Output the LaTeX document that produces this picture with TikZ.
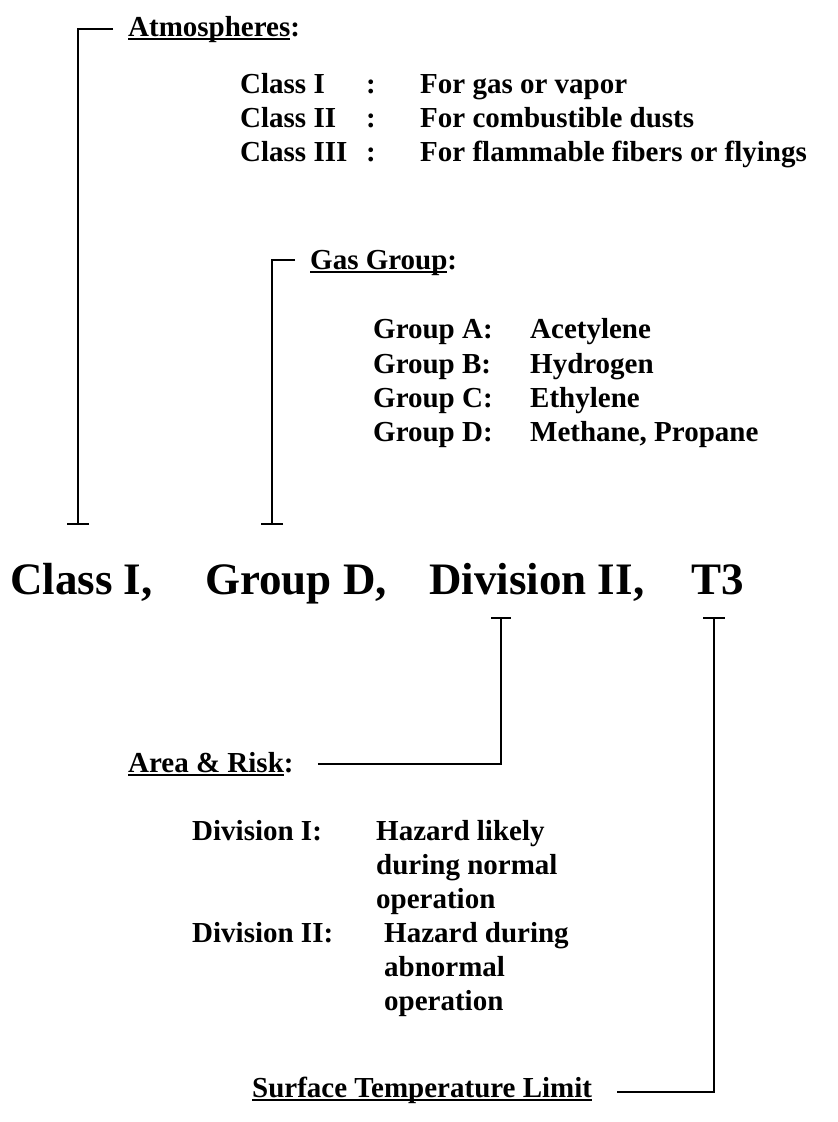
\documentclass[tikz,border=0pt]{standalone}
\usepackage{fontspec}
\setmainfont{Liberation Serif}
\usetikzlibrary{positioning,arrows.meta}
\newcommand{\ulhead}[1]{{\setbox0\hbox{#1}\rlap{\rule[-4pt]{\wd0}{1.8pt}}\box0}}

\begin{document}
\begin{tikzpicture}[x=1pt,y=-1pt,
	txt/.style={font=\fontsize{29}{34}\selectfont\bfseries,anchor=base west,inner sep=0pt},
	big/.style={font=\fontsize{45}{50}\selectfont\bfseries,anchor=base west,inner sep=0pt},
	lead/.style={line width=1.8pt}]
	\useasboundingbox (0,0) rectangle (838,1122);
	% main code line
	\node[big] (cls) at (10,594) {Class I,};
	\node[big] (grp) at (205,594) {Group D,};
	\node[big] (div) at (429,594) {Division II,};
	\node[big] (tem) at (691,594) {T3};
	% atmospheres
	\node[txt] (atm) at (128,36) {\ulhead{Atmospheres}:};
	\node[txt] (c1) at (240,93) {Class I};
	\node[txt] (c2) at (240,127) {Class II};
	\node[txt] (c3) at (240,161) {Class III};
	\node[txt] (k1) at (366,93) {:};
	\node[txt] (k2) at (366,127) {:};
	\node[txt] (k3) at (366,161) {:};
	\node[txt] (v1) at (420,93) {For gas or vapor};
	\node[txt] (v2) at (420,127) {For combustible dusts};
	\node[txt] (v3) at (420,161) {For flammable fibers or flyings};
	\coordinate (atmend) at ([xshift=68pt,yshift=69pt]cls.base west);
	\draw[lead,-{Bar[width=22pt]}] ([xshift=-15pt,yshift=7pt]atm.base west) -| (atmend);
	% gas group
	\node[txt] (gas) at (310,269) {\ulhead{Gas Group}:};
	\node[txt] (ga) at (373,338) {Group A:};
	\node[txt] (gb) at (373,373) {Group B:};
	\node[txt] (gc) at (373,407) {Group C:};
	\node[txt] (gd) at (373,441) {Group D:};
	\node[txt] (na) at (530,338) {Acetylene};
	\node[txt] (nb) at (530,373) {Hydrogen};
	\node[txt] (nc) at (530,407) {Ethylene};
	\node[txt] (nd) at (530,441) {Methane, Propane};
	\coordinate (gasend) at ([xshift=67pt,yshift=69pt]grp.base west);
	\draw[lead,-{Bar[width=22pt]}] ([xshift=-15pt,yshift=9pt]gas.base west) -| (gasend);
	% area and risk
	\node[txt] (area) at (128,772) {\ulhead{Area \& Risk}:};
	\node[txt] (d1) at (192,840) {Division I:};
	\node[txt] (h1) at (376,840) {Hazard likely};
	\node[txt] (h2) at (376,874) {during normal};
	\node[txt] (h3) at (376,908) {operation};
	\node[txt] (d2) at (192,942) {Division II:};
	\node[txt] (h4) at (384,942) {Hazard during};
	\node[txt] (h5) at (384,976) {abnormal};
	\node[txt] (h6) at (384,1010) {operation};
	\coordinate (divend) at ([xshift=72pt,yshift=-23pt]div.base west);
	\draw[lead,-{Bar[width=20pt]}] ([xshift=24pt,yshift=8pt]area.base east) -| (divend);
	% temperature
	\node[txt] (surf) at (252,1097) {\ulhead{Surface Temperature Limit}};
	\coordinate (temend) at ([xshift=23pt,yshift=-23pt]tem.base west);
	\draw[lead,-{Bar[width=22pt]}] ([xshift=25pt,yshift=5pt]surf.base east) -| (temend);
\end{tikzpicture}
\end{document}
